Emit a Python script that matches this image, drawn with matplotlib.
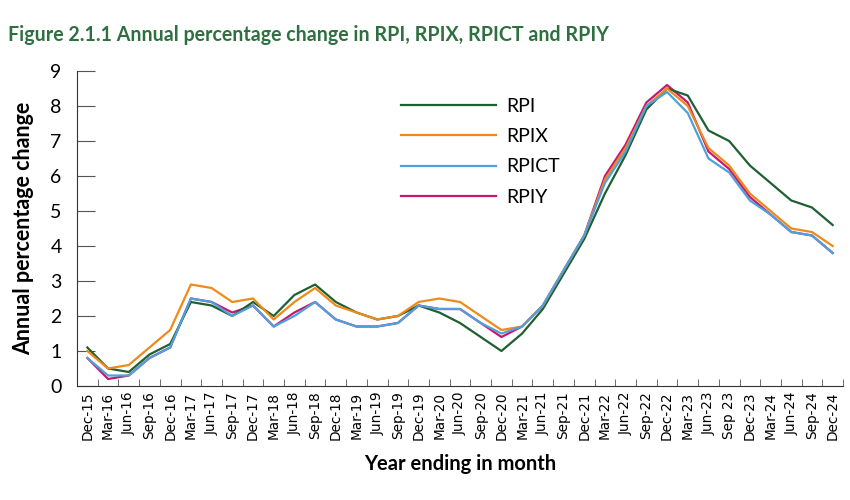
import matplotlib.pyplot as plt
import numpy as np

# quarterly periods, Dec-15 to Dec-24
months = ['Dec-15', 'Mar-16', 'Jun-16', 'Sep-16', 'Dec-16', 'Mar-17', 'Jun-17', 'Sep-17',
          'Dec-17', 'Mar-18', 'Jun-18', 'Sep-18', 'Dec-18', 'Mar-19', 'Jun-19', 'Sep-19',
          'Dec-19', 'Mar-20', 'Jun-20', 'Sep-20', 'Dec-20', 'Mar-21', 'Jun-21', 'Sep-21',
          'Dec-21', 'Mar-22', 'Jun-22', 'Sep-22', 'Dec-22', 'Mar-23', 'Jun-23', 'Sep 23',
          'Dec-23', 'Mar-24', 'Jun-24', 'Sep-24', 'Dec-24']

rpi = [1.1, 0.5, 0.4, 0.9, 1.2, 2.4, 2.3, 2.0, 2.4, 2.0, 2.6, 2.9, 2.4, 2.1, 1.9, 2.0,
       2.3, 2.1, 1.8, 1.4, 1.0, 1.5, 2.2, 3.2, 4.2, 5.5, 6.6, 7.9, 8.5, 8.3, 7.3, 7.0,
       6.3, 5.8, 5.3, 5.1, 4.6]
rpix = [1.0, 0.5, 0.6, 1.1, 1.6, 2.9, 2.8, 2.4, 2.5, 1.9, 2.4, 2.8, 2.3, 2.1, 1.9, 2.0,
        2.4, 2.5, 2.4, 2.0, 1.6, 1.7, 2.3, 3.3, 4.3, 5.9, 6.8, 8.0, 8.5, 8.0, 6.8, 6.3,
        5.5, 5.0, 4.5, 4.4, 4.0]
rpict = [0.8, 0.3, 0.3, 0.8, 1.1, 2.5, 2.4, 2.0, 2.3, 1.7, 2.0, 2.4, 1.9, 1.7, 1.7, 1.8,
         2.3, 2.2, 2.2, 1.8, 1.5, 1.7, 2.3, 3.3, 4.3, 5.8, 6.7, 8.0, 8.4, 7.8, 6.5, 6.1,
         5.3, 4.9, 4.4, 4.3, 3.8]
rpiy = [0.8, 0.2, 0.3, 0.8, 1.1, 2.5, 2.4, 2.1, 2.3, 1.7, 2.1, 2.4, 1.9, 1.7, 1.7, 1.8,
        2.3, 2.2, 2.2, 1.8, 1.4, 1.7, 2.3, 3.3, 4.3, 6.0, 6.9, 8.1, 8.6, 8.1, 6.7, 6.2,
        5.4, 4.9, 4.4, 4.3, 3.8]

x = np.arange(len(months))

fig = plt.figure(figsize=(8.5, 5), dpi=100)
ax = fig.add_axes([0.0906, 0.228, 0.9012, 0.63])

ax.plot(x, rpiy, color='#c8176f', lw=1.6, label='RPIY', zorder=2)
ax.plot(x, rpi, color='#1e6030', lw=1.6, label='RPI', zorder=3)
ax.plot(x, rpix, color='#ee8a1c', lw=1.6, label='RPIX', zorder=3)
ax.plot(x, rpict, color='#4fa0dc', lw=1.6, label='RPICT', zorder=3)

ax.set_xlim(-0.5, len(months) - 0.5)
ax.set_ylim(0, 9)
ax.set_yticks(range(10))
ax.set_xticks(x)
ax.set_xticklabels(months, rotation=90, fontsize=9.8, family='DejaVu Sans')
ax.set_xticks(np.arange(-0.5, len(months), 1), minor=True)
ax.tick_params(axis='x', which='major', length=0, pad=4)
ax.tick_params(axis='x', which='minor', direction='in', length=5, color='#555555')
ax.tick_params(axis='y', direction='in', length=13, color='#555555', pad=11)
for lab in ax.get_yticklabels():
    lab.set_family('Lato')
    lab.set_fontsize(14)

for s in ['top', 'right']:
    ax.spines[s].set_visible(False)
ax.spines['left'].set_color('#333333')
ax.spines['bottom'].set_color('#333333')

ax.set_ylabel('Annual percentage change', family='Lato', fontweight='bold', fontsize=15.5, labelpad=12)
ax.set_xlabel('Year ending in month', family='Lato', fontweight='bold', fontsize=14.5, labelpad=10)

h, l = ax.get_legend_handles_labels()
order = [1, 2, 3, 0]
ax.legend([h[i] for i in order], [l[i] for i in order], frameon=False,
          loc='upper left', bbox_to_anchor=(0.4, 0.97), prop={'family': 'Lato', 'size': 14},
          handlelength=4.9, handletextpad=0.5, labelspacing=0.68)

fig.text(0.009, 0.93, 'Figure 2.1.1 Annual percentage change in RPI, RPIX, RPICT and RPIY',
         color='#2e7040', fontweight='bold', fontsize=14.1, family='Lato', va='center')

fig.savefig('out.png', dpi=100)
